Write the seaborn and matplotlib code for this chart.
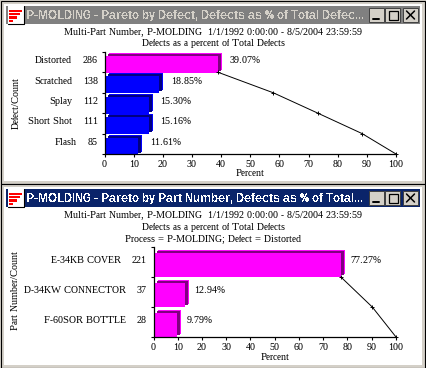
import matplotlib
matplotlib.use('Agg')
import matplotlib.pyplot as plt
import matplotlib.transforms as mtrans
from matplotlib.patches import Rectangle
import seaborn as sns

# top window data
defects = ['Distorted', 'Scratched', 'Splay', 'Short Shot', 'Flash']
defect_counts = [286, 138, 112, 111, 85]
defect_pct = [39.07, 18.85, 15.30, 15.16, 11.61]
defect_cum = [39.07, 57.92, 73.22, 88.38, 100]
defect_front = ['#ff00ff', '#0000ff', '#0000ff', '#0000ff', '#0000ff']
defect_dark = ['#800080', '#000080', '#000080', '#000080', '#000080']
defect_label_shift = [0, 0, 0, 0, 5]

# bottom window data
parts = ['E-34KB COVER', 'D-34KW CONNECTOR', 'F-60SOR BOTTLE']
part_counts = [221, 37, 28]
part_pct = [77.27, 12.94, 9.79]
part_cum = [77.27, 90.21, 100]
part_front = ['#ff00ff', '#ff00ff', '#ff00ff']
part_dark = ['#800080', '#800080', '#800080']
part_label_shift = [-5, 0, 0]

xticks = list(range(0, 101, 10))

W, H = 426, 368
sns.set_theme(style='white')
plt.rcParams['font.family'] = ['Liberation Serif', 'DejaVu Serif']
plt.rcParams['text.hinting'] = 'native'
plt.rcParams['text.hinting_factor'] = 1
TXT = 7.0
GRAY = '#d4d0c8'

fig = plt.figure(figsize=(W / 100, H / 100), dpi=100, facecolor=GRAY)

# pixel canvas for the window frames
bg = fig.add_axes([0, 0, 1, 1], zorder=-1)
bg.set_xlim(0, W)
bg.set_ylim(H, 0)
bg.axis('off')


def window(y0, y1, title, bar_col, title_col):
    bg.add_patch(Rectangle((0.5, y0 + 0.5), W - 2, y1 - y0 - 1, fc=GRAY, ec='black', lw=0.8))
    bg.add_patch(Rectangle((4, y0 + 4), W - 8.5, y1 - y0 - 7.5, fc='white', ec='none'))
    bg.add_patch(Rectangle((6, y0 + 6), W - 12.5, 18, fc=bar_col, ec='none'))
    # icon
    bg.add_patch(Rectangle((8, y0 + 6), 16, 18, fc='white', ec='none'))
    bg.plot([8, 24, 24], [y0 + 24, y0 + 24, y0 + 6], color='black', lw=0.8)
    for k, wid in enumerate([13, 11, 8, 4]):
        bg.add_patch(Rectangle((9, y0 + 9.5 + k * 3.4), wid, 2.2, fc='#ff0000', ec='none'))
    bg.text(26, y0 + 15.3, title, color=title_col, fontsize=8.6, weight='bold',
            family='Liberation Sans', va='center', ha='left', antialiased=False)
    # min, max, close buttons
    for bx in [369, 385, 403]:
        bg.add_patch(Rectangle((bx, y0 + 8), 15, 14, fc=GRAY, ec='#404040', lw=0.7))
    bg.plot([373, 379], [y0 + 19, y0 + 19], color='black', lw=1.4)
    bg.add_patch(Rectangle((388.5, y0 + 10.5), 9, 9, fc='none', ec='black', lw=0.9))
    bg.plot([406.5, 414.5], [y0 + 11, y0 + 19], color='black', lw=1.1)
    bg.plot([406.5, 414.5], [y0 + 19, y0 + 11], color='black', lw=1.1)


window(0, 184, 'P-MOLDING - Pareto by Defect, Defects as % of Total Defec...', '#808080', GRAY)
window(183, 368, 'P-MOLDING - Pareto by Part Number, Defects as % of Total...', '#0a246a', 'white')


def pareto(box, names, counts, pct, cum, front, dark, shift, ylabel, bar_w, bar_dy,
           name_right, count_right, val_gap, ylabel_y, xlabel_y, lines, line_ys):
    left, top, right, bottom = box
    ax = fig.add_axes([left / W, 1 - bottom / H, (right - left) / W, (bottom - top) / H])
    ax.patch.set_alpha(0)
    df = {'name': names, 'pct': pct}

    # back rim, dark depth, front face: same bars shifted by a few pixels
    layers = [(4, bar_dy - 3, front), (3, bar_dy - 2, dark), (0, bar_dy, front)]
    for dx, dy, cols in layers:
        n = len(ax.patches)
        sns.barplot(data=df, x='pct', y='name', hue='name', palette=cols, legend=False,
                    saturation=1, width=bar_w, linewidth=0, ax=ax, orient='h')
        off = mtrans.ScaledTranslation(dx / 100, -dy / 100, fig.dpi_scale_trans)
        for p in ax.patches[n:]:
            p.set_transform(p.get_data_transform() + off)

    pos = [i + 0.5 for i in range(len(names))]
    sns.lineplot(x=cum, y=pos, sort=False, estimator=None, color='black', lw=0.7,
                 marker='+', markersize=3, markeredgecolor='black', markeredgewidth=0.7,
                 ax=ax, zorder=5, clip_on=False)

    ax.set_xlim(0, 100)
    ax.set_ylim(len(names) - 0.5, -0.5)
    ax.set_xticks(xticks)
    ax.set_yticks([i - 0.5 for i in range(len(names) + 1)])
    ax.set_yticklabels([])
    ax.set_xlabel('')
    ax.set_ylabel('')
    ax.tick_params(axis='both', direction='out', length=2.5, width=0.8, color='black',
                   labelsize=TXT, labelcolor='black', pad=1.5, bottom=True, left=True)
    sns.despine(ax=ax)
    for s in ['left', 'bottom']:
        ax.spines[s].set_color('black')
        ax.spines[s].set_linewidth(0.9)

    ytrans = mtrans.blended_transform_factory(bg.transData, ax.transData)
    up = mtrans.ScaledTranslation(0, 1.5 / 100, fig.dpi_scale_trans)
    for i, name in enumerate(names):
        bg_text = dict(transform=ytrans + up, fontsize=TXT, va='center', color='black')
        ax.text(name_right + shift[i], i, name, ha='right', **bg_text)
        ax.text(count_right, i, str(counts[i]), ha='right', **bg_text)
        gap = mtrans.ScaledTranslation(val_gap / 100, 1.5 / 100, fig.dpi_scale_trans)
        ax.text(pct[i], i, f'{pct[i]:.2f}%', ha='left', va='center', fontsize=TXT,
                color='black', transform=ax.transData + gap)

    bg.text(16, ylabel_y, ylabel, rotation=90, fontsize=TXT, ha='center', va='center', color='black')
    bg.text((left + right) / 2, xlabel_y, 'Percent', fontsize=TXT, ha='center', va='center', color='black')
    for txt, ty in zip(lines, line_ys):
        bg.text(213, ty, txt, fontsize=TXT, ha='center', va='center', color='black')


sub1 = 'Multi-Part Number, P-MOLDING  1/1/1992 0:00:00 - 8/5/2004 23:59:59'
sub2 = 'Defects as a percent of Total Defects'
sub3 = 'Process = P-MOLDING; Defect = Distorted'

pareto((104.5, 52, 396, 154), defects, defect_counts, defect_pct, defect_cum, defect_front,
       defect_dark, defect_label_shift, 'Defect/Count', 0.83, 2.3, 72, 98, 11.5, 103, 174,
       [sub1, sub2], [32, 44])
pareto((153.5, 247, 396, 337), parts, part_counts, part_pct, part_cum, part_front,
       part_dark, part_label_shift, 'Part Number/Count', 0.81, 3.3, 126, 147, 9.5, 291, 357,
       [sub1, sub2, sub3], [215, 227, 239])

fig.savefig('out.png', dpi=100, facecolor=GRAY)
